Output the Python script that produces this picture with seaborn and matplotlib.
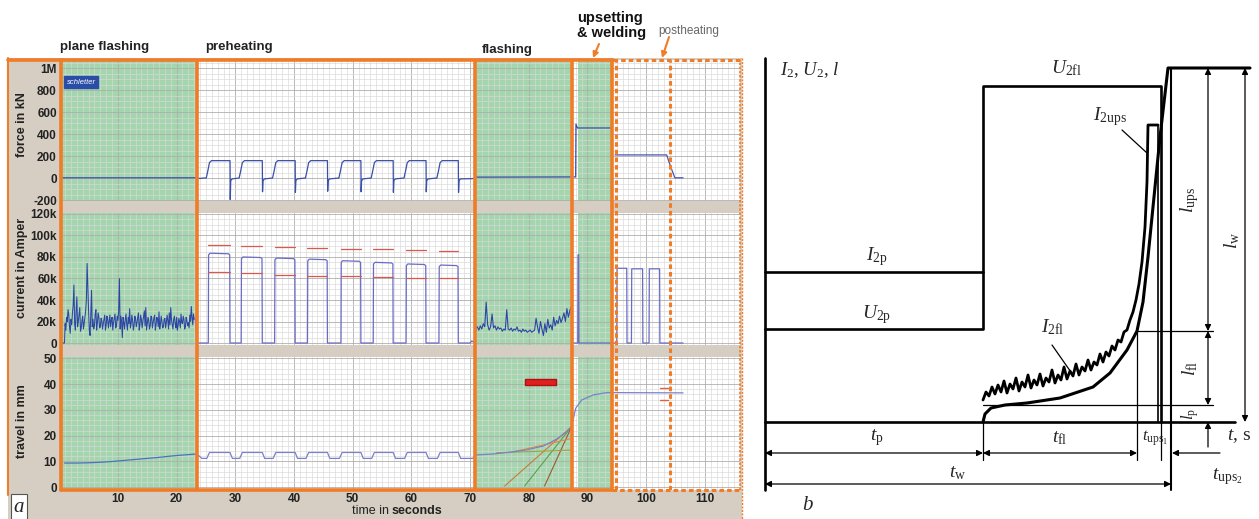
import numpy as np
import pandas as pd
import matplotlib.pyplot as plt
from matplotlib.lines import Line2D
from matplotlib.patches import Rectangle
from matplotlib.ticker import MultipleLocator
import seaborn as sns

sns.set_style("white")
plt.rcParams['font.family'] = ['Liberation Sans', 'DejaVu Sans']
plt.rcParams['mathtext.fontset'] = 'custom'
plt.rcParams['mathtext.rm'] = 'Liberation Serif'
plt.rcParams['mathtext.it'] = 'Liberation Serif:italic'
plt.rcParams['mathtext.bf'] = 'Liberation Serif:bold'

W, H = 1259, 519
ORANGE = '#f07c28'
TAN = '#d6cec2'
GREEN = '#a4d6ae'

# ---------------- panel a: recorded weld (time in s) ----------------
x_range = (0.3, 116.0)
phase_edges = [23.46, 70.8, 87.35, 94.16]
green_spans = [(0.3, 23.46), (70.8, 87.35), (88.4, 94.16)]
post_edges = [94.8, 104.0]

# preheating pulses
pulse_on = [25.4, 31.0, 36.7, 42.3, 48.0, 53.5, 59.1, 64.7]
pulse_off = [29.1, 34.6, 40.2, 45.7, 51.4, 56.9, 62.5, 68.0]
cur_peak = [83.5, 80.0, 79.0, 78.0, 76.5, 75.0, 73.5, 72.5]   # kA
red_hi = [91.0, 90.5, 89.0, 88.7, 87.7, 87.0, 86.2, 85.3]
red_lo = [65.8, 64.8, 63.6, 62.6, 62.0, 61.4, 60.7, 60.5]
force_hi = 158
force_spike = [-195, -125, -130, -120, -125, -130, -125, -130]
trav_hi, trav_lo = 13.5, 11.2

# current, plane flashing (kA, every 0.25 s from 1.0 s)
pf_cur_t = np.arange(1.0, 23.01, 0.25)
pf_cur = [18, 24, 31, 15,
          22, 28, 54, 12,
          43, 20, 33, 14,
          25, 18, 30, 74,
          30, 7, 49, 22,
          16, 31, 19, 24,
          15, 21, 18, 26,
          17, 22, 20, 15,
          24, 19, 27, 16,
          21, 60, 25, 5,
          19, 22, 17, 24,
          32, 18, 21, 16,
          23, 19, 28, 17,
          22, 20, 30, 33,
          18, 21, 16, 24,
          19, 26, 17, 22,
          29, 18, 20, 15,
          23, 19, 21, 28,
          33, 17, 22, 18,
          24, 16, 20, 27,
          18, 22, 15, 21,
          19, 26, 34, 17,
          22]
# readings half way between the ones above (1.125 s ... 22.875 s)
pf_cur_mid = [12, 20, 26, 9,
              17, 35, 18, 30,
              15, 27, 11, 21,
              13, 24, 40, 52,
              12, 26, 15, 13,
              27, 12, 28, 14,
              23, 13, 22, 12,
              25, 14, 26, 21,
              12, 23, 14, 25,
              30, 13, 20, 24,
              13, 27, 12, 18,
              14, 26, 12, 25,
              15, 24, 12, 26,
              14, 25, 16, 12,
              24, 13, 25, 14,
              23, 12, 24, 15,
              13, 25, 14, 22,
              14, 26, 13, 17,
              22, 13, 25, 14,
              12, 23, 14, 19,
              25, 13, 24, 16,
              14, 20, 24, 27]

# current, flashing (kA, every 0.25 s from 71.0 s)
fl_cur_t = np.arange(71.0, 87.26, 0.25)
fl_cur = [14, 15, 12, 16,
          13, 18, 15, 38,
          17, 12, 15, 27,
          14, 16, 12, 15,
          13, 14, 11, 13,
          12, 31, 13, 12,
          14, 11, 13, 12,
          15, 11, 12, 10,
          13, 11, 12, 10,
          11, 12, 10, 11,
          12, 23, 15, 9,
          20, 13, 7, 18,
          10, 22, 14, 17,
          12, 24, 16, 21,
          18, 25, 19, 23,
          28, 20, 32, 24,
          30, 34]

# current, upsetting + postheating
up_cur_t = [87.35, 88.35, 88.4, 88.5, 88.55, 95.0, 95.05, 96.7, 96.75, 97.5, 97.55,
            99.4, 99.45, 100.5, 100.55, 102.3, 102.35, 106.3]
up_cur_v = [0, 0, 82, 82, 0, 0, 69.5, 69.5, 0, 0, 69, 69, 0, 0, 69, 69, 0, 0]

# force (kN)
pf_force_t = [0.6, 23.46]
pf_force_v = [2, 2]
fl_force_t = [70.8, 87.35, 88.0, 88.05, 88.3, 94.16]
fl_force_v = [8, 10, 10, 490, 455, 455]
post_force_t = [94.7, 103.5, 104.2, 104.9, 106.3]
post_force_v = [210, 210, 100, 2, 2]

# travel (mm)
pf_trav_t = [0.9, 3, 5, 7, 9, 11, 13, 15, 17, 19, 21, 23.46]
pf_trav_v = [9.4, 9.4, 9.5, 9.7, 10.0, 10.4, 10.8, 11.2, 11.6, 12.1, 12.5, 12.9]
fl_trav_t = [70.8, 73.9, 76.8, 79.6, 82.5, 84.7, 86.4, 87.35, 87.6, 88.0, 89.0, 91.0, 93.3, 106.3]
fl_trav_v = [12.5, 12.9, 13.6, 14.5, 16.0, 18.6, 21.3, 23.8, 26.5, 30.6, 33.8, 35.8, 36.7, 36.6]

# tangent lines drawn on the flashing travel
fan_t0 = [75.9, 79.3, 82.7, 77.5, 74.5]
fan_v0 = [0.5, 0.5, 0.5, 13.8, 13.4]
fan_t1 = [87.3, 87.3, 87.3, 87.3, 87.3]
fan_v1 = [23.5, 23.5, 23.5, 18.9, 14.4]
fan_colors = ['#c87a3c', '#5aa04a', '#9a5a30', '#e08a40', '#a0a040']
post_marks_v = [38.5, 34.0]

# ---------------- panel b: schematic ----------------
sch_tp, sch_tfl, sch_tu1, sch_tw = 218, 372, 396, 406
lev_U2p, lev_I2p, lev_U2fl, lev_I2ups = 93, 150, 336, 297
lev_top, lev_lp, lev_lfl = 354, 17, 91
sch_i_x = [218, 221, 224, 227, 230, 233, 236, 239, 242, 245, 248, 251, 254, 257, 260,
           263, 266, 269, 272, 275, 278, 281, 284, 287, 290, 293, 296, 299, 302, 305,
           308, 311, 314, 317, 320, 323, 326, 329, 332, 335, 338, 341, 344, 347, 350,
           353, 356, 359, 362, 365, 368, 371, 374, 377, 380, 382, 383, 393]
sch_i_y = [22, 30, 26, 35, 28, 37, 30, 41, 29, 38, 33, 44, 31, 40, 35,
           47, 34, 42, 37, 48, 36, 44, 40, 52, 39, 47, 42, 55, 43, 51,
           46, 58, 47, 55, 51, 62, 52, 60, 57, 68, 60, 70, 66, 76, 72,
           82, 80, 90, 92, 102, 110, 122, 138, 160, 195, 240, 297, 297]
sch_l_x = [218, 220, 226, 240, 262, 295, 328, 345, 362, 372, 378, 383, 388, 395, 403, 485]
sch_l_y = [0, 8, 14, 17, 19, 24, 35, 49, 72, 91, 120, 165, 215, 285, 354, 354]


def trace(ax, t, v, color, lw=0.9, z=3):
    d = pd.DataFrame({'t': np.asarray(t, float), 'v': np.asarray(v, float)})
    sns.lineplot(data=d, x='t', y='v', sort=False, estimator=None,
                 color=color, lw=lw, ax=ax, zorder=z)


# merge the two plane-flashing reading sets in time order
pf_t_all, pf_v_all = [], []
for i, (t, v) in enumerate(zip(pf_cur_t, pf_cur)):
    pf_t_all.append(t)
    pf_v_all.append(v)
    if i < len(pf_cur_mid):
        pf_t_all.append(t + 0.125)
        pf_v_all.append(pf_cur_mid[i])

# build preheating series from the pulse table
ph_force_t, ph_force_v = [23.46, 24.0, 24.6], [0, -4, 0]
for on, off, sp in zip(pulse_on, pulse_off, force_spike):
    ph_force_t += [on - 0.35, on - 0.1, on + 0.2, on + 0.55, off, off + 0.04, off + 0.12, off + 0.35]
    ph_force_v += [0, 60, 140, force_hi, force_hi, sp, -25, -8]
ph_force_t += [70.8]
ph_force_v += [-5]

ph_cur_t, ph_cur_v = [23.2, 23.46], [22, 0]
for on, off, pk in zip(pulse_on, pulse_off, cur_peak):
    ph_cur_t += [on, on + 0.05, on + 0.3, off - 0.3, off - 0.05, off]
    ph_cur_v += [0, pk - 1.5, pk, pk - 0.5, pk - 1.5, 0]
ph_cur_t += [70.0, 70.3, 70.8, 71.0]
ph_cur_v += [0, 2, 0, 14]

ph_trav_t, ph_trav_v = [23.46, 24.3], [12.9, trav_lo]
for on, off in zip(pulse_on, pulse_off):
    ph_trav_t += [on - 0.25, on + 0.2, off, off + 0.4]
    ph_trav_v += [trav_lo, trav_hi, trav_hi, trav_lo]
ph_trav_t += [70.5]
ph_trav_v += [trav_lo]

fig = plt.figure(figsize=(W / 100, H / 100), dpi=100)
fig.add_artist(Rectangle((8 / W, 0), 734 / W, 461 / H, transform=fig.transFigure,
                         facecolor=TAN, edgecolor='none', zorder=-1))

L, R = 61 / W, 679 / W
ax1 = fig.add_axes([L, 1 - 213 / H, R, 153 / H])
ax2 = fig.add_axes([L, 1 - 357 / H, R, 144 / H])
ax3 = fig.add_axes([L, 1 - 490 / H, R, 133 / H])

# force
trace(ax1, pf_force_t + ph_force_t + fl_force_t, pf_force_v + ph_force_v + fl_force_v, '#3a4fa8')
trace(ax1, post_force_t, post_force_v, '#4a55b0')

# current
trace(ax2, [0.5, 0.9] + pf_t_all, [0, 0] + pf_v_all, '#2c46a4', lw=0.75)
trace(ax2, ph_cur_t, ph_cur_v, '#6a6cc4')
trace(ax2, list(fl_cur_t) + [87.35], fl_cur + [0], '#2c46a4', lw=0.8)
trace(ax2, up_cur_t, up_cur_v, '#6a6cc4')
for on, off, hi, lo in zip(pulse_on, pulse_off, red_hi, red_lo):
    trace(ax2, [on, off], [hi, hi], '#d8584c', lw=0.9, z=2.5)
    trace(ax2, [on, off], [lo, lo], '#d8584c', lw=0.9, z=3.5)

# travel
for t0, v0, t1, v1, c in zip(fan_t0, fan_v0, fan_t1, fan_v1, fan_colors):
    trace(ax3, [t0, t1], [v0, v1], c, lw=0.8, z=2.5)
trace(ax3, pf_trav_t, pf_trav_v, '#4a72c0')
trace(ax3, ph_trav_t + fl_trav_t, ph_trav_v + fl_trav_v, '#7c80cc')
for v in post_marks_v:
    trace(ax3, [102.3, 103.8], [v, v], '#e06040', lw=1.0)
ax3.add_patch(Rectangle((79.3, 39.7), 5.4, 2.2, facecolor='#e02020', edgecolor='#b01010', zorder=4))

ylims = [(-318, 1073), (-13.0, 120.9), (-1.05, 50.5)]
yticks = [[-200, 0, 200, 400, 600, 800, 1000], list(range(0, 121, 20)), list(range(0, 51, 10))]
ylabs = [['-200', '0', '200', '400', '600', '800', '1M'],
         ['0', '20k', '40k', '60k', '80k', '100k', '120k'],
         [str(v) for v in range(0, 51, 10)]]
yminor = [50, 5, 2]
bands = [(-318, -210), (-13.0, -1.6), None]
for ax, yl, yt, lab, ym, band in zip([ax1, ax2, ax3], ylims, yticks, ylabs, yminor, bands):
    ax.set_facecolor('white')
    for a, b in green_spans:
        ax.axvspan(a, b, color=GREEN, lw=0, zorder=0.2)
    if band:
        ax.axhspan(band[0], band[1], color=TAN, lw=0, zorder=2)
    ax.set_xlim(*x_range)
    ax.set_ylim(*yl)
    ax.set_yticks(yt)
    ax.set_yticklabels(lab)
    ax.set_xticks(range(10, 111, 10))
    ax.xaxis.set_minor_locator(MultipleLocator(1))
    ax.yaxis.set_minor_locator(MultipleLocator(ym))
    ax.set_axisbelow(True)
    ax.grid(which='minor', color='#d8d8d8', lw=0.45)
    ax.grid(which='major', color='#aeaeae', lw=0.6)
    ax.tick_params(which='both', length=0, pad=3, labelsize=8.5, labelcolor='#222')
    for lbl in ax.get_yticklabels() + ax.get_xticklabels():
        lbl.set_fontweight('bold')
    ax.set(xlabel='', ylabel='')
    for s in ax.spines.values():
        s.set_visible(False)
ax1.tick_params(labelbottom=False)
ax2.tick_params(labelbottom=False)
ax3.tick_params(axis='x', pad=2)

# orange phase frame
ax_o = fig.add_axes([L, 1 - 490 / H, R, 430 / H], zorder=10)
ax_o.set_xlim(*x_range)
ax_o.set_ylim(0, 1)
ax_o.patch.set_visible(False)
ax_o.axis('off')
for e in phase_edges:
    ax_o.axvline(e, color=ORANGE, lw=2.6)
ax_o.axvline(x_range[0], color=ORANGE, lw=2.6, clip_on=False)
for e in post_edges:
    ax_o.axvline(e, color=ORANGE, lw=2.2, ls=(0, (1.5, 1)))
ax_o.axvline(x_range[1], color=ORANGE, lw=1.2, ls=(0, (1.5, 1)), clip_on=False)
ax_o.plot([x_range[0], phase_edges[-1]], [0, 0], color=ORANGE, lw=2.6, clip_on=False)
ax_o.plot([phase_edges[-1], x_range[1]], [0, 0], color=ORANGE, lw=2.2, ls=(0, (1.5, 1)), clip_on=False)

fig.add_artist(Line2D([8 / W, 613 / W], [1 - 60 / H] * 2, color=ORANGE, lw=2.6))
fig.add_artist(Line2D([613 / W, 741 / W], [1 - 60 / H] * 2, color=ORANGE, lw=2.2, ls=(0, (1.5, 1))))
fig.add_artist(Line2D([8 / W] * 2, [1 - 58 / H, 1 - 495 / H], color=ORANGE, lw=1.5))
fig.add_artist(Line2D([742 / W] * 2, [1 - 58 / H, 0], color=ORANGE, lw=1.0, ls=(0, (1.5, 1))))

# labels for panel a
lab_kw = dict(rotation=90, ha='center', va='center', fontsize=9, weight='bold', color='#222')
fig.text(22 / W, 1 - 125 / H, 'force in kN', **lab_kw)
fig.text(22 / W, 1 - 268 / H, 'current in Amper', **lab_kw)
fig.text(22 / W, 1 - 421 / H, 'travel in mm', **lab_kw)
fig.text(392 / W, 1 - 511 / H, 'time in ', ha='right', va='center', fontsize=9, color='#222')
fig.text(392 / W, 1 - 511 / H, 'seconds', ha='left', va='center', fontsize=9, weight='bold', color='#222')
fig.text(60 / W, 1 - 50 / H, 'plane flashing', fontsize=9.5, weight='bold', va='baseline', color='#222')
fig.text(205 / W, 1 - 50 / H, 'preheating', fontsize=9.5, weight='bold', va='baseline', color='#222')
fig.text(482 / W, 1 - 53 / H, 'flashing', fontsize=9.5, weight='bold', va='baseline', color='#222')
fig.text(577 / W, 1 - 11 / H, 'upsetting\n& welding', fontsize=10.5, weight='bold', va='top',
         linespacing=1.05, color='#111')
fig.text(658 / W, 1 - 34 / H, 'postheating', fontsize=8.5, va='baseline', color='#666')
orange_arrow = dict(arrowstyle='-|>', color=ORANGE, lw=1.5, mutation_scale=8, shrinkA=0, shrinkB=0)
ax_o.annotate('', xy=(593, H - 58), xytext=(599, H - 44), xycoords='figure pixels',
              textcoords='figure pixels', arrowprops=orange_arrow)
ax_o.annotate('', xy=(662, H - 58), xytext=(669, H - 37), xycoords='figure pixels',
              textcoords='figure pixels', arrowprops=orange_arrow)
fig.text(81 / W, 1 - 82 / H, 'schletter', fontsize=5.5, style='italic', color='white', ha='center',
         va='center', bbox=dict(boxstyle='square,pad=0.3', fc='#2a4ea6', ec='#2a4ea6'), zorder=20)
fig.text(19 / W, 1 - 507 / H, 'a', fontsize=15, style='italic', family='Liberation Serif', ha='center',
         va='center', bbox=dict(boxstyle='square,pad=0.15', fc='white', ec='#555', lw=0.8))

# ---------------- panel b ----------------
ax_b = fig.add_axes([755 / W, 0, 504 / W, 1])
ax_b.set_xlim(-10, 494)
ax_b.set_ylim(-97, 422)
ax_b.axis('off')

thick, thin = 1.9, 0.9
ax_b.plot([0, 0], [-68, 364], color='k', lw=thick)
ax_b.plot([0, 470], [0, 0], color='k', lw=thick)
trace(ax_b, [0, sch_tp], [lev_I2p, lev_I2p], 'k', lw=thick)
trace(ax_b, [0, sch_tp, sch_tp, sch_tu1, sch_tu1], [lev_U2p, lev_U2p, lev_U2fl, lev_U2fl, 0], 'k', lw=thick)
trace(ax_b, sch_i_x, sch_i_y, 'k', lw=2.0)
trace(ax_b, [sch_i_x[-1], sch_i_x[-1]], [lev_I2ups, 0], 'k', lw=1.2)
trace(ax_b, sch_l_x, sch_l_y, 'k', lw=2.2)
ax_b.set(xlabel='', ylabel='')
for x0, y0, x1, y1 in [(sch_tp, -38, sch_tp, 0), (sch_tfl, -38, sch_tfl, lev_lfl),
                       (sch_tu1, -38, sch_tu1, 0), (sch_tp, lev_lp, 448, lev_lp),
                       (sch_tfl, lev_lfl, 448, lev_lfl)]:
    ax_b.plot([x0, x1], [y0, y1], color='k', lw=thin)
ax_b.plot([sch_tw, sch_tw], [-68, lev_top], color='k', lw=1.5)

arr = dict(arrowstyle='<|-|>', color='k', lw=thin, shrinkA=0, shrinkB=0, mutation_scale=9)
one = dict(arrowstyle='-|>', color='k', lw=thin, shrinkA=0, shrinkB=0, mutation_scale=9)
for a, b in [((0, -31), (sch_tp, -31)), ((sch_tp, -31), (sch_tfl, -31)), ((0, -62), (sch_tw, -62)),
             ((443, lev_lfl), (443, lev_top)), ((443, lev_lp), (443, lev_lfl)), ((480, 0), (480, lev_top))]:
    ax_b.annotate('', xy=b, xytext=a, arrowprops=arr)
ax_b.annotate('', xy=(sch_tw + 1, -31), xytext=(455, -31), arrowprops=one)
ax_b.annotate('', xy=(443, 0), xytext=(443, -25), arrowprops=one)
ax_b.plot([357, 382], [292, 269], color='k', lw=thin)
ax_b.plot([287, 308], [77, 47], color='k', lw=thin)

tk = dict(fontsize=14, ha='center', va='center', family='Liberation Serif')
ax_b.text(15, 352, r'$I_2$, $U_2$, $l$', fontsize=13.5, ha='left', va='center', family='Liberation Serif')
ax_b.text(302, 354, r'$U_{\rm 2fl}$', **tk)
ax_b.text(328, 305, r'$I_{\rm 2ups}$', fontsize=14, ha='left', va='center')
ax_b.text(112, 165, r'$I_{\rm 2p}$', **tk)
ax_b.text(112, 107, r'$U_{\rm 2p}$', **tk)
ax_b.text(288, 95, r'$I_{\rm 2fl}$', **tk)
ax_b.text(112, -16, r'$t_{\rm p}$', **tk)
ax_b.text(295, -16, r'$t_{\rm fl}$', **tk)
ax_b.text(390, -16, r'$t_{{\rm ups}_1}$', fontsize=12, ha='center', va='center')
ax_b.text(462, -55, r'$t_{{\rm ups}_2}$', **tk)
ax_b.text(193, -51, r'$t_{\rm w}$', **tk)
ax_b.text(474, -14, r'$t$, s', **tk)
ax_b.text(425, 222, r'$l_{\rm ups}$', rotation=90, **tk)
ax_b.text(467, 182, r'$l_{\rm w}$', rotation=90, **tk)
ax_b.text(425, 54, r'$l_{\rm fl}$', rotation=90, **tk)
ax_b.text(425, 8, r'$l_{\rm p}$', rotation=90, fontsize=12, ha='center', va='center')
ax_b.text(43, -83, r'$b$', fontsize=15, ha='center', va='center')

fig.savefig('out.png', dpi=100)
